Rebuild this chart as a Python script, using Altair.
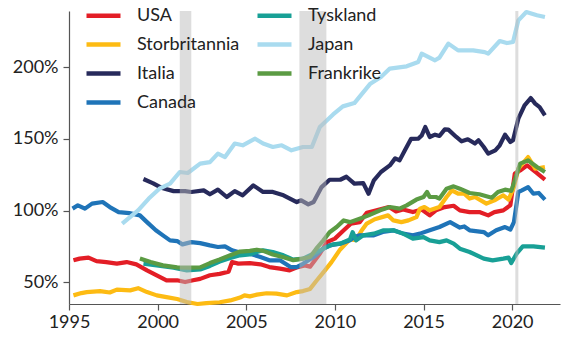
import altair as alt
import pandas as pd

countries = ["USA", "Storbritannia", "Italia", "Canada", "Tyskland", "Japan", "Frankrike"]
colors = ["#e31e26", "#fdbb13", "#272a5b", "#1f74b8", "#18a096", "#a9dbef", "#5b9b43"]

usa_x = [1995.25, 1995.6, 1996.1, 1996.55, 1997.1, 1997.7, 1998.25, 1998.8, 1999.4, 1999.95, 2000.5, 2001.1, 2001.55, 2002.0, 2002.4, 2002.95, 2003.5, 2004.0, 2004.2, 2004.55, 2005.2, 2005.8, 2006.3, 2006.9, 2007.45, 2007.9, 2008.3, 2008.6, 2009.15, 2009.55, 2010.0, 2010.5, 2010.9, 2011.4, 2011.8, 2012.35, 2013.05, 2013.45, 2013.85, 2014.4, 2014.9, 2015.35, 2015.7, 2016.2, 2016.7, 2017.05, 2017.6, 2018.15, 2018.65, 2019.0, 2019.5, 2019.9, 2020.15, 2020.45, 2020.85, 2021.4, 2021.85]
usa_y = [65.4, 66.6, 67.3, 64.9, 64.2, 63.1, 64.2, 62.6, 58.4, 54.9, 51.5, 51.5, 50.3, 51.5, 52.5, 55.0, 56.0, 57.5, 64.2, 63.1, 63.5, 62.6, 60.7, 59.6, 58.4, 60.7, 61.9, 61.0, 70.0, 78.1, 80.5, 86.3, 90.9, 92.0, 98.5, 100.2, 102.5, 99.5, 100.8, 99.0, 100.7, 96.7, 100.2, 102.5, 103.4, 100.2, 99.0, 99.0, 96.7, 99.0, 100.2, 103.7, 125.8, 128.0, 131.5, 126.2, 121.6]

uk_x = [1995.25, 1995.7, 1996.0, 1996.75, 1997.3, 1997.7, 1998.45, 1998.9, 1999.4, 1999.95, 2000.5, 2001.1, 2001.65, 2002.25, 2002.75, 2003.5, 2004.1, 2004.65, 2004.9, 2005.2, 2005.6, 2006.15, 2006.7, 2007.3, 2007.85, 2008.2, 2008.6, 2008.95, 2009.35, 2009.8, 2010.3, 2010.85, 2011.2, 2011.5, 2011.8, 2012.25, 2013.0, 2013.3, 2013.75, 2014.15, 2014.6, 2014.8, 2015.05, 2015.35, 2015.9, 2016.3, 2016.6, 2016.95, 2017.3, 2017.6, 2017.9, 2018.55, 2019.0, 2019.5, 2019.8, 2020.1, 2020.35, 2020.9, 2021.3, 2021.85]
uk_y = [41.0, 42.6, 43.3, 44.0, 43.0, 45.0, 44.5, 46.0, 43.3, 41.0, 39.8, 38.5, 36.4, 35.0, 35.6, 36.2, 37.5, 39.5, 41.0, 40.3, 41.5, 42.5, 42.2, 41.0, 43.3, 44.0, 45.5, 51.0, 57.0, 64.0, 73.0, 80.0, 79.5, 86.0, 91.0, 94.0, 96.7, 93.2, 92.0, 93.2, 95.5, 101.4, 102.5, 100.2, 102.5, 109.5, 114.1, 111.8, 111.8, 108.4, 109.5, 104.9, 107.2, 110.7, 107.7, 116.4, 129.2, 137.3, 129.2, 130.4]

ita_x = [1999.2, 1999.75, 2000.2, 2000.9, 2001.55, 2001.9, 2002.6, 2002.95, 2003.4, 2003.9, 2004.35, 2004.8, 2005.4, 2005.95, 2006.5, 2007.1, 2007.85, 2008.1, 2008.5, 2008.8, 2009.25, 2009.7, 2010.3, 2010.65, 2011.1, 2011.6, 2011.9, 2012.2, 2012.6, 2013.1, 2013.4, 2013.65, 2013.95, 2014.3, 2014.7, 2014.9, 2015.1, 2015.35, 2015.65, 2015.9, 2016.2, 2016.4, 2016.85, 2017.15, 2017.5, 2017.9, 2018.1, 2018.4, 2018.65, 2019.05, 2019.3, 2019.6, 2019.9, 2020.05, 2020.35, 2020.7, 2021.05, 2021.3, 2021.55, 2021.85]
ita_y = [122.0, 119.0, 116.0, 113.6, 113.6, 113.0, 114.1, 111.4, 114.6, 109.5, 113.6, 110.7, 117.6, 113.0, 113.0, 110.7, 106.0, 107.2, 104.4, 106.0, 116.4, 121.5, 121.5, 123.6, 118.8, 119.2, 111.8, 121.1, 126.9, 131.5, 136.4, 135.0, 142.0, 150.0, 150.1, 152.4, 158.2, 151.3, 152.9, 152.0, 156.6, 156.4, 151.3, 148.3, 149.7, 146.7, 149.0, 144.3, 139.7, 142.0, 145.5, 152.9, 147.8, 149.0, 164.0, 173.3, 178.4, 174.5, 172.1, 166.4]

can_x = [1995.2, 1995.5, 1995.9, 1996.3, 1996.9, 1997.3, 1997.8, 1998.4, 1999.0, 1999.4, 1999.9, 2000.3, 2000.7, 2001.1, 2001.4, 2001.9, 2002.4, 2002.95, 2003.4, 2003.8, 2004.2, 2004.55, 2005.2, 2005.8, 2006.3, 2006.9, 2007.5, 2007.85, 2008.2, 2008.8, 2009.35, 2009.7, 2010.3, 2010.85, 2011.1, 2011.4, 2012.2, 2012.7, 2013.3, 2013.85, 2014.4, 2014.8, 2015.35, 2015.9, 2016.5, 2017.05, 2017.3, 2017.6, 2018.4, 2018.65, 2019.1, 2019.6, 2019.9, 2020.1, 2020.35, 2020.55, 2020.9, 2021.2, 2021.5, 2021.85]
can_y = [101.4, 103.7, 101.4, 104.9, 106.0, 102.5, 99.0, 98.3, 96.7, 92.0, 86.3, 82.8, 79.3, 78.8, 76.5, 78.1, 77.4, 75.8, 74.7, 75.1, 72.4, 71.2, 70.0, 67.7, 65.4, 65.4, 60.7, 60.7, 63.0, 67.7, 73.5, 75.8, 77.0, 79.3, 81.6, 82.8, 82.8, 85.1, 86.3, 84.0, 82.8, 84.0, 86.3, 88.6, 92.0, 88.2, 89.0, 86.3, 85.1, 82.8, 86.3, 88.6, 86.8, 92.0, 113.0, 114.1, 116.4, 111.8, 112.3, 107.7]

ger_x = [1999.2, 1999.95, 2000.9, 2001.65, 2002.4, 2002.95, 2003.5, 2004.1, 2004.65, 2005.2, 2005.6, 2005.95, 2006.5, 2007.1, 2007.65, 2008.2, 2008.8, 2009.35, 2009.9, 2010.3, 2010.85, 2011.0, 2011.2, 2011.6, 2012.2, 2012.75, 2013.3, 2013.85, 2014.4, 2015.0, 2015.35, 2015.9, 2016.3, 2016.7, 2017.05, 2017.6, 2018.4, 2018.9, 2019.5, 2019.8, 2019.95, 2020.25, 2020.6, 2021.2, 2021.85]
ger_y = [63.1, 61.9, 60.3, 58.4, 59.0, 61.5, 64.5, 67.0, 68.9, 69.5, 71.2, 72.4, 71.2, 68.9, 65.9, 66.6, 70.0, 73.5, 76.5, 77.0, 80.0, 85.0, 79.3, 82.8, 84.0, 86.3, 86.3, 84.0, 80.5, 81.6, 79.3, 78.1, 79.3, 77.0, 73.5, 71.2, 66.6, 65.4, 66.6, 67.3, 63.5, 70.0, 75.1, 75.1, 74.2]

jpn_x = [1998.0, 1998.9, 1999.5, 2000.1, 2000.7, 2001.25, 2001.7, 2002.4, 2002.95, 2003.4, 2003.8, 2004.35, 2004.8, 2005.5, 2005.95, 2006.5, 2007.0, 2007.55, 2008.2, 2008.7, 2009.15, 2009.9, 2010.45, 2011.1, 2012.0, 2012.6, 2013.1, 2014.05, 2014.7, 2014.9, 2015.65, 2015.9, 2016.4, 2016.95, 2017.8, 2018.45, 2018.65, 2019.3, 2019.7, 2020.05, 2020.35, 2020.8, 2021.4, 2021.85]
jpn_y = [91.0, 100.2, 108.4, 115.3, 118.8, 126.9, 126.2, 132.7, 133.8, 139.7, 137.3, 146.7, 145.5, 150.1, 146.7, 144.3, 145.5, 142.0, 144.3, 144.3, 158.2, 167.0, 172.6, 174.9, 188.4, 193.0, 198.9, 200.5, 203.5, 209.3, 204.7, 206.5, 216.3, 211.6, 211.6, 210.4, 209.3, 218.1, 216.7, 217.4, 232.5, 238.3, 236.0, 234.8]

fra_x = [1999.0, 1999.6, 2000.3, 2001.1, 2001.85, 2002.4, 2002.95, 2003.5, 2004.1, 2004.65, 2005.2, 2005.6, 2005.95, 2006.5, 2007.1, 2007.65, 2008.0, 2008.6, 2008.95, 2009.35, 2009.7, 2010.1, 2010.5, 2010.85, 2011.4, 2011.9, 2012.55, 2013.1, 2013.65, 2014.05, 2014.6, 2015.0, 2015.2, 2015.35, 2015.7, 2015.9, 2016.3, 2016.7, 2017.05, 2017.6, 2018.15, 2018.85, 2019.2, 2019.6, 2019.95, 2020.15, 2020.45, 2020.9, 2021.4, 2021.85]
fra_y = [66.6, 64.2, 61.9, 60.5, 60.3, 60.5, 63.5, 66.0, 69.0, 71.5, 72.0, 72.8, 72.0, 69.5, 67.5, 65.5, 66.2, 67.7, 73.5, 79.3, 85.0, 88.6, 93.2, 92.0, 94.4, 96.7, 100.2, 102.5, 101.4, 103.7, 107.7, 109.5, 113.0, 109.5, 109.5, 108.4, 115.3, 116.9, 115.3, 112.3, 111.4, 109.0, 113.0, 114.6, 113.8, 121.1, 132.7, 135.0, 130.4, 126.9]

rec_start = [2001.25, 2008.0, 2020.18]
rec_end = [2001.9, 2009.52, 2020.35]

series = {
    "USA": (usa_x, usa_y),
    "Storbritannia": (uk_x, uk_y),
    "Italia": (ita_x, ita_y),
    "Canada": (can_x, can_y),
    "Tyskland": (ger_x, ger_y),
    "Japan": (jpn_x, jpn_y),
    "Frankrike": (fra_x, fra_y),
}
rows = []
for i, c in enumerate(countries):
    xs, ys = series[c]
    for x, y in zip(xs, ys):
        rows.append({"land": c, "år": x, "verdi": y, "ord": i})
df = pd.DataFrame(rows)
rec = pd.DataFrame({"start": rec_start, "slutt": rec_end})

FONT = "Lato"
FS = 18
W, H = 491, 293

xscale = alt.Scale(domain=[1995, 2022.7], nice=False, zero=False)
yscale = alt.Scale(domain=[35, 239], nice=False, zero=False)

lines = alt.Chart(df).mark_line(strokeWidth=4.2, strokeJoin="round", strokeCap="butt").encode(
    x=alt.X("år:Q", scale=xscale, title=None,
            axis=alt.Axis(values=[1995, 2000, 2005, 2010, 2015, 2020], format="d",
                          tickSize=6, labelPadding=3, labelFontSize=FS, grid=False,
                          labelFlush=False)),
    y=alt.Y("verdi:Q", scale=yscale, title=None,
            axis=alt.Axis(values=[50, 100, 150, 200], labelExpr="datum.value + '%'",
                          tickSize=6, labelPadding=5, labelFontSize=FS, grid=False)),
    color=alt.Color("land:N",
                    scale=alt.Scale(domain=countries, range=colors),
                    legend=alt.Legend(title=None, orient="none", legendX=15, legendY=-15,
                                      columns=2, columnPadding=8, rowPadding=-13,
                                      symbolType="stroke", symbolSize=1156, symbolStrokeWidth=4.5,
                                      labelFontSize=FS, labelOffset=14, labelColor="#222222",
                                      labelFont=FONT)),
    detail="land:N",
    order=alt.Order("ord:Q"),
)

bands = alt.Chart(rec).mark_rect(color="#bbbbbb", opacity=0.5).encode(
    x="start:Q",
    x2="slutt:Q",
    y=alt.value(0),
    y2=alt.value(H),
)

chart = alt.layer(lines, bands).properties(
    width=W, height=H,
    padding={"left": 69, "top": 11, "right": 19, "bottom": 37},
    autosize=alt.AutoSizeParams(type="none"),
).configure_view(stroke=None).configure_axis(
    domainColor="#555555", tickColor="#555555", labelColor="#222222", labelFont=FONT,
    domainWidth=1.2, tickWidth=1.2,
)

chart.save("out.html", embed_options={"renderer": "svg", "actions": False})
